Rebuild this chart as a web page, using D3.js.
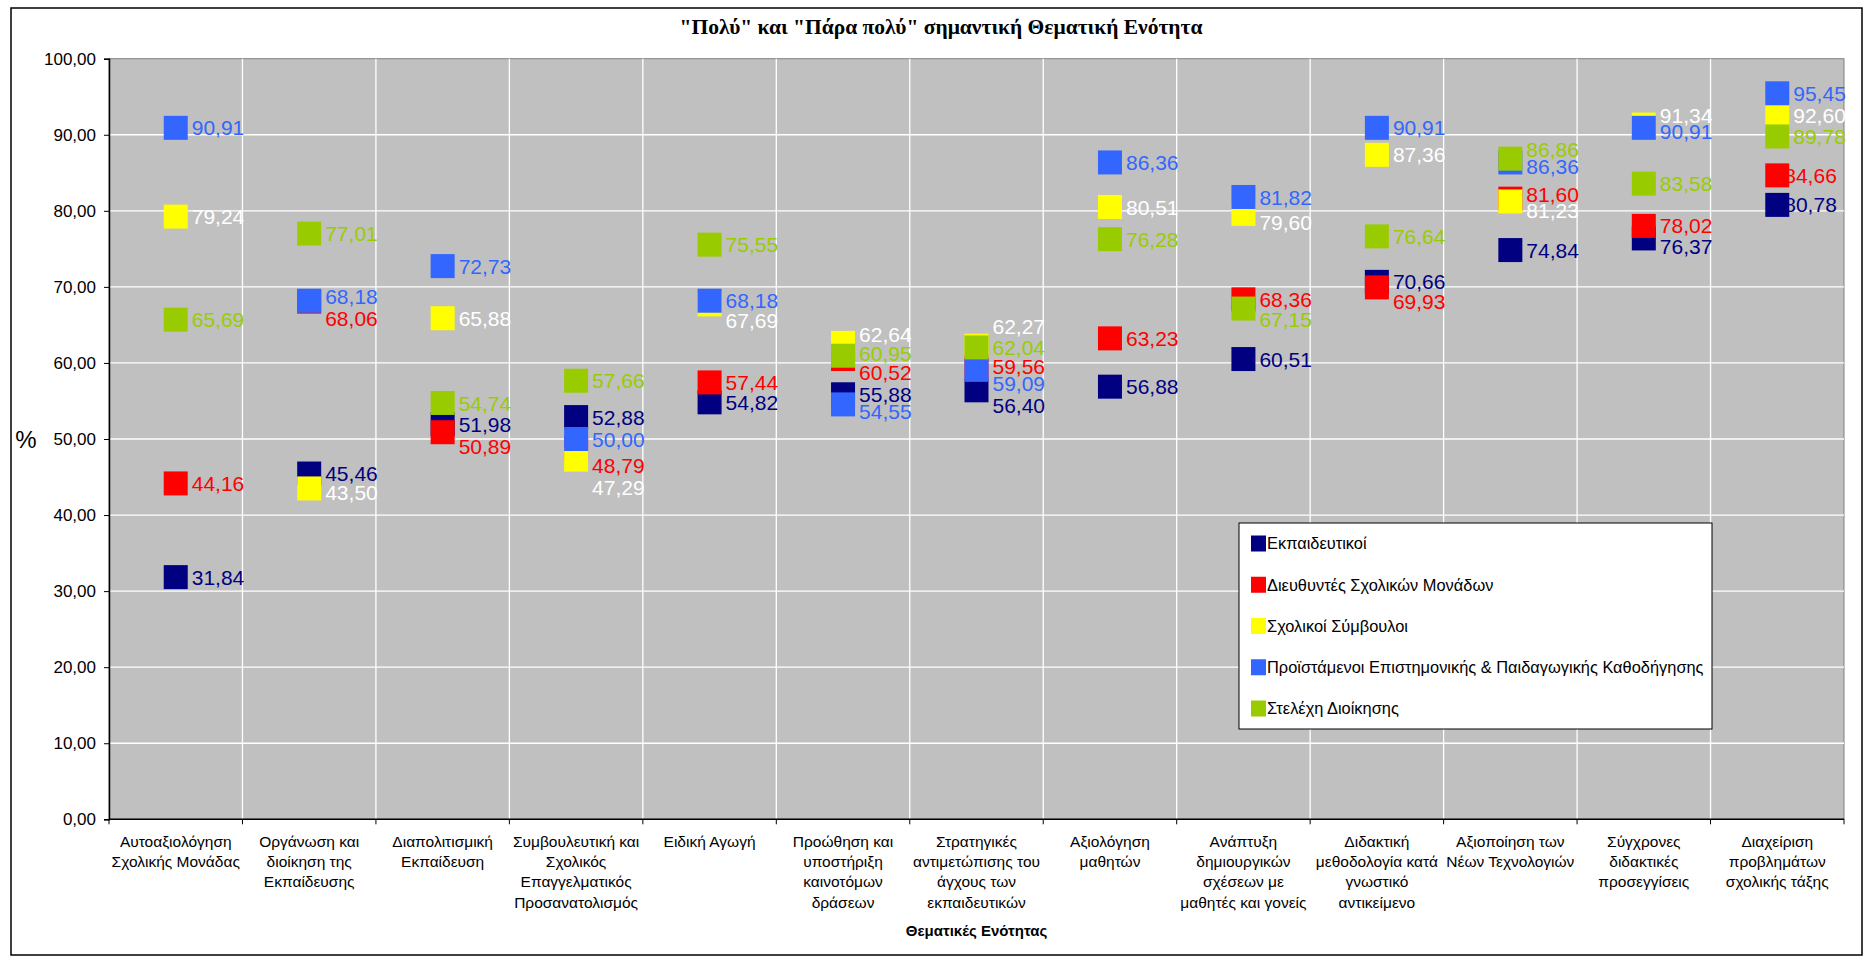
<!DOCTYPE html>
<html>
<head>
<meta charset="utf-8">
<script src="https://cdn.jsdelivr.net/npm/d3@7"></script>
<style>
body { margin: 0; background: #fff; }
</style>
</head>
<body>
<div id="chart"></div>
<script>
var width = 1867
var height = 959

// categories (tick labels, already broken into lines like the original)
var categories = [
  ["Αυτοαξιολόγηση", "Σχολικής Μονάδας"],
  ["Οργάνωση και", "διοίκηση της", "Εκπαίδευσης"],
  ["Διαπολιτισμική", "Εκπαίδευση"],
  ["Συμβουλευτική και", "Σχολικός", "Επαγγελματικός", "Προσανατολισμός"],
  ["Ειδική Αγωγή"],
  ["Προώθηση και", "υποστήριξη", "καινοτόμων", "δράσεων"],
  ["Στρατηγικές", "αντιμετώπισης του", "άγχους των", "εκπαιδευτικών"],
  ["Αξιολόγηση", "μαθητών"],
  ["Ανάπτυξη", "δημιουργικών", "σχέσεων με", "μαθητές και γονείς"],
  ["Διδακτική", "μεθοδολογία κατά", "γνωστικό", "αντικείμενο"],
  ["Αξιοποίηση των", "Νέων Τεχνολογιών"],
  ["Σύγχρονες", "διδακτικές", "προσεγγίσεις"],
  ["Διαχείριση", "προβλημάτων", "σχολικής τάξης"]
]

var seriesNames = ["Εκπαιδευτικοί", "Διευθυντές Σχολικών Μονάδων", "Σχολικοί Σύμβουλοι",
  "Προϊστάμενοι Επιστημονικής & Παιδαγωγικής Καθοδήγησης", "Στελέχη Διοίκησης"]

var teachers    = [31.84, 45.46, 51.98, 52.88, 54.82, 55.88, 56.40, 56.88, 60.51, 70.66, 74.84, 76.37, 80.78]
var principals  = [44.16, 68.06, 50.89, 48.79, 57.44, 60.52, 59.56, 63.23, 68.36, 69.93, 81.60, 78.02, 84.66]
var advisors    = [79.24, 43.50, 65.88, 47.29, 67.69, 62.64, 62.27, 80.51, 79.60, 87.36, 81.23, 91.34, 92.60]
var supervisors = [90.91, 68.18, 72.73, 50.00, 68.18, 54.55, 59.09, 86.36, 81.82, 90.91, 86.36, 90.91, 95.45]
var executives  = [65.69, 77.01, 54.74, 57.66, 75.55, 60.95, 62.04, 76.28, 67.15, 76.64, 86.86, 83.58, 89.78]

var yTicks = [0, 10, 20, 30, 40, 50, 60, 70, 80, 90, 100]

var allSeries = [teachers, principals, advisors, supervisors, executives]
var markerColors = ['#000080', '#ff0000', '#ffff00', '#3366ff', '#99cc00']
var labelColors  = ['#000080', '#ff0000', '#ffffff', '#3366ff', '#99cc00']

// hand moved data labels in the original workbook: "series,category" -> [dx, dy] px
var labelNudge = {
  "3,1": [0, -4], "1,1": [0, 17], "2,1": [0, 4],
  "1,2": [0, 14],
  "1,3": [0, 17], "2,3": [0, 28],
  "2,4": [0, 16],
  "2,5": [0, -8], "4,5": [0, -2], "1,5": [0, 13], "3,5": [0, 7],
  "2,6": [0, -19], "3,6": [0, 14], "0,6": [0, 15],
  "2,8": [0, 9], "4,8": [0, 11],
  "1,9": [0, 14],
  "4,10": [0, -9], "3,10": [0, 4], "1,10": [0, -4], "2,10": [0, 9],
  "2,11": [0, -9], "3,11": [0, 4], "0,11": [0, 8],
  "1,12": [-9, 0], "0,12": [-9, 0]
}

var fmt = function(v) { return d3.format(".2f")(v).replace(".", ",") }

var svg = d3.select('#chart')
  .append('svg')
  .attr('width', width)
  .attr('height', height)

// chart area
svg.append('rect')
  .attr('x', 11).attr('y', 8)
  .attr('width', 1851).attr('height', 947)
  .attr('fill', '#fff')
  .attr('stroke', '#000')
  .attr('stroke-width', 1.5)

var x = d3.scaleBand()
  .domain(d3.range(categories.length))
  .range([109, 1844])
  .padding(0)

var y = d3.scaleLinear()
  .domain([0, 100])
  .range([819.3, 58.7])

// plot area
svg.append('rect')
  .attr('x', x.range()[0]).attr('y', y(100))
  .attr('width', x.range()[1] - x.range()[0])
  .attr('height', y(0) - y(100))
  .attr('fill', '#c0c0c0')
  .attr('stroke', '#808080')
  .attr('stroke-width', 1)

// gridlines
svg.append('g')
  .selectAll('line')
  .data(yTicks.filter(function(d) { return d > 0 && d < 100 }))
  .enter()
  .append('line')
  .attr('x1', x.range()[0]).attr('x2', x.range()[1])
  .attr('y1', function(d) { return y(d) }).attr('y2', function(d) { return y(d) })
  .attr('stroke', '#fff')
  .attr('stroke-width', 1.3)

svg.append('g')
  .selectAll('line')
  .data(d3.range(1, categories.length))
  .enter()
  .append('line')
  .attr('x1', function(d) { return x(d) }).attr('x2', function(d) { return x(d) })
  .attr('y1', y(100)).attr('y2', y(0))
  .attr('stroke', '#fff')
  .attr('stroke-width', 1.3)

// y axis
var yAxis = svg.append('g')
  .attr('transform', 'translate(' + x.range()[0] + ',0)')
  .call(d3.axisLeft(y).tickValues(yTicks).tickSize(5).tickPadding(8).tickFormat(fmt))

yAxis.select('.domain').attr('stroke', '#000').attr('stroke-width', 1.5)
yAxis.selectAll('.tick line').attr('stroke', '#000')
yAxis.selectAll('.tick text')
  .attr('fill', '#000')
  .style('font-family', '"Liberation Sans", Arial, sans-serif')
  .style('font-size', '17px')

// x axis line and boundary ticks
svg.append('line')
  .attr('x1', x.range()[0]).attr('x2', x.range()[1])
  .attr('y1', y(0)).attr('y2', y(0))
  .attr('stroke', '#000')
  .attr('stroke-width', 1.5)

svg.append('g')
  .selectAll('line')
  .data(d3.range(categories.length + 1))
  .enter()
  .append('line')
  .attr('x1', function(d) { return d < categories.length ? x(d) : x.range()[1] })
  .attr('x2', function(d) { return d < categories.length ? x(d) : x.range()[1] })
  .attr('y1', y(0)).attr('y2', y(0) + 5)
  .attr('stroke', '#000')

// category labels
var catLabels = svg.append('g')
  .selectAll('text')
  .data(categories)
  .enter()
  .append('text')
  .attr('text-anchor', 'middle')
  .attr('fill', '#000')
  .style('font-family', '"Liberation Sans", Arial, sans-serif')
  .style('font-size', '15.5px')

catLabels.selectAll('tspan')
  .data(function(d, i) { return d.map(function(line) { return {line: line, i: i} }) })
  .enter()
  .append('tspan')
  .attr('x', function(d) { return x(d.i) + x.bandwidth() / 2 })
  .attr('y', function(d, j) { return 847 + j * 20.2 })
  .text(function(d) { return d.line })

// titles
svg.append('text')
  .attr('x', 941)
  .attr('y', 33.5)
  .attr('text-anchor', 'middle')
  .style('font-family', '"Liberation Serif", "Times New Roman", serif')
  .style('font-weight', 'bold')
  .style('font-size', '21.5px')
  .text('"Πολύ" και "Πάρα πολύ" σημαντική Θεματική Ενότητα')

svg.append('text')
  .attr('x', (x.range()[0] + x.range()[1]) / 2)
  .attr('y', 936)
  .attr('text-anchor', 'middle')
  .style('font-family', '"Liberation Sans", Arial, sans-serif')
  .style('font-weight', 'bold')
  .style('font-size', '15px')
  .text('Θεματικές Ενότητας')

svg.append('text')
  .attr('x', 26)
  .attr('y', y(50) + 8.5)
  .attr('text-anchor', 'middle')
  .style('font-family', '"Liberation Sans", Arial, sans-serif')
  .style('font-size', '24px')
  .text('%')

// data labels go underneath the markers, like in the original
var points = []
allSeries.forEach(function(values, s) {
  values.forEach(function(v, c) { points.push({s: s, c: c, v: v}) })
})

svg.append('g')
  .selectAll('text')
  .data(points)
  .enter()
  .append('text')
  .attr('x', function(d) {
    var n = labelNudge[d.s + ',' + d.c] || [0, 0]
    return x(d.c) + x.bandwidth() / 2 + 16 + n[0] })
  .attr('y', function(d) {
    var n = labelNudge[d.s + ',' + d.c] || [0, 0]
    return y(d.v) + n[1] })
  .attr('dy', '0.36em')
  .attr('fill', function(d) { return labelColors[d.s] })
  .style('font-family', '"Liberation Sans", Arial, sans-serif')
  .style('font-size', '21px')
  .text(function(d) { return fmt(d.v) })

// markers, series drawn in order so later ones sit on top
var ms = 24
allSeries.forEach(function(values, s) {
  svg.append('g')
    .selectAll('rect')
    .data(values)
    .enter()
    .append('rect')
    .attr('x', function(d, c) { return x(c) + x.bandwidth() / 2 - ms / 2 })
    .attr('y', function(d) { return y(d) - ms / 2 })
    .attr('width', ms)
    .attr('height', ms)
    .attr('fill', markerColors[s])
})

// legend
var legend = svg.append('g')
  .attr('transform', 'translate(1239,523)')

legend.append('rect')
  .attr('width', 473)
  .attr('height', 206)
  .attr('fill', '#fff')
  .attr('stroke', '#000')
  .attr('stroke-width', 1)

var entries = legend.selectAll('g')
  .data(seriesNames)
  .enter()
  .append('g')
  .attr('transform', function(d, i) { return 'translate(0,' + (20.5 + i * 41.25) + ')' })

entries.append('rect')
  .attr('x', 12)
  .attr('y', -8)
  .attr('width', 15)
  .attr('height', 16)
  .attr('fill', function(d, i) { return markerColors[i] })

entries.append('text')
  .attr('x', 28)
  .attr('dy', '0.36em')
  .style('font-family', '"Liberation Sans", Arial, sans-serif')
  .style('font-size', '16.4px')
  .text(function(d) { return d })
</script>
</body>
</html>
